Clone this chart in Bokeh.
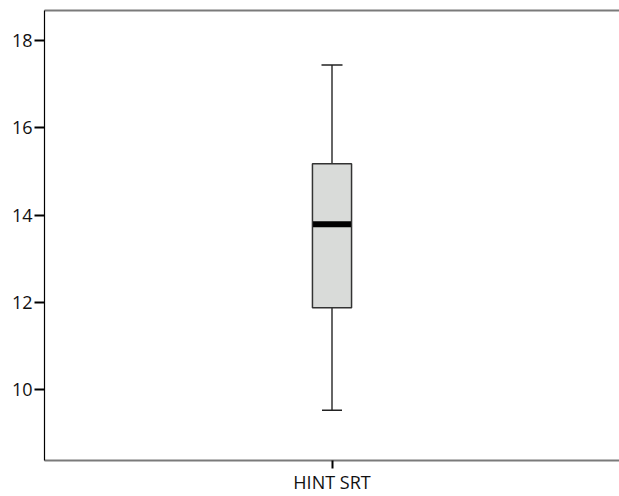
from bokeh.plotting import figure
from bokeh.models import (ColumnDataSource, FactorRange, Range1d, FixedTicker,
                          LinearAxis, Whisker, TeeHead)
from bokeh.transform import dodge
from bokeh.embed import file_html
from bokeh.resources import INLINE

categories = ["HINT SRT"]
lower_whisker = [9.53]
q1 = [11.88]
median = [13.79]
q3 = [15.18]
upper_whisker = [17.44]
y_ticks = [10, 12, 14, 16, 18]

src = ColumnDataSource(dict(x=categories, lw=lower_whisker, q1=q1, med=median,
                            q3=q3, uw=upper_whisker))

p = figure(width=619, height=496, output_backend="svg", toolbar_location=None,
           x_range=FactorRange(*categories, range_padding=0),
           y_range=Range1d(8.38, 18.69),
           min_border_left=44, min_border_right=0, min_border_top=10,
           min_border_bottom=35)
p.outline_line_color = None
p.xgrid.visible = False
p.ygrid.visible = False
p.background_fill_color = "white"

FONT = "Open Sans"
lc = "#333333"

# whiskers
p.add_layout(Whisker(source=src, base="x", lower="q3", upper="uw",
                     line_color=lc, line_width=1.5,
                     upper_head=TeeHead(size=21, line_color="#222222", line_width=1.5),
                     lower_head=None))
p.add_layout(Whisker(source=src, base="x", lower="lw", upper="q1",
                     line_color=lc, line_width=1.5,
                     lower_head=TeeHead(size=20, line_color="#222222", line_width=1.5),
                     upper_head=None))

# box
p.vbar(x="x", top="q3", bottom="q1", width=0.068, source=src,
       fill_color="#d9dbd9", line_color=lc, line_width=1.5)
# median
p.segment(x0=dodge("x", -0.033, range=p.x_range), x1=dodge("x", 0.033, range=p.x_range),
          y0="med", y1="med", source=src, line_color="black", line_width=6,
          line_cap="butt")

# left axis
ya = p.yaxis[0]
ya.ticker = FixedTicker(ticks=y_ticks)
ya.axis_line_color = "black"
ya.axis_line_width = 1.2
ya.major_tick_out = 10
ya.major_tick_in = 0
ya.major_tick_line_color = "black"
ya.major_tick_line_width = 2
ya.minor_tick_line_color = None
ya.major_label_text_font = FONT
ya.major_label_text_font_size = "18px"
ya.major_label_text_color = "#111111"
ya.major_label_standoff = 2

xa = p.xaxis[0]
xa.axis_line_color = "#7a7a7a"
xa.axis_line_width = 2
xa.major_tick_out = 8
xa.major_tick_in = 0
xa.major_tick_line_color = "black"
xa.major_tick_line_width = 2
xa.major_label_text_font = FONT
xa.major_label_text_font_size = "18px"
xa.major_label_text_color = "#111111"
xa.major_label_standoff = 1

# top border
top = LinearAxis(ticker=FixedTicker(ticks=[]), axis_line_color="#7a7a7a",
                 axis_line_width=2, major_tick_line_color=None,
                 minor_tick_line_color=None, major_label_text_font_size="0px")
p.add_layout(top, "above")

open("out.html", "w").write(file_html(p, INLINE))
